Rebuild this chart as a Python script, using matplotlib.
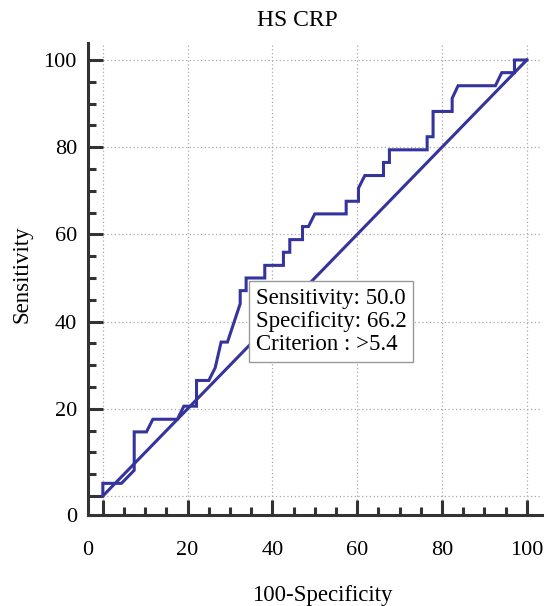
import matplotlib
matplotlib.use('Agg')
import matplotlib.pyplot as plt
from matplotlib.ticker import MultipleLocator, FixedLocator

# ROC curve vertices (100-Specificity, Sensitivity)
fpr = [0, 0, 4.4, 7.4, 7.4, 10.3, 11.8, 17.6, 19.1, 22.1,
       22.1, 25.0, 26.5, 27.9, 29.4, 32.4, 32.4, 33.8, 33.8, 38.2,
       38.2, 42.6, 42.6, 44.1, 44.1, 47.1, 47.1, 48.5, 50.0, 57.4,
       57.4, 60.3, 60.3, 61.8, 66.2, 66.2, 67.6, 67.6, 76.5, 76.5,
       77.9, 77.9, 82.4, 82.4, 83.8, 92.6, 94.1, 97.1, 97.1, 100]
tpr = [0, 2.9, 2.9, 5.9, 14.7, 14.7, 17.6, 17.6, 20.6, 20.6,
       26.5, 26.5, 29.4, 35.3, 35.3, 44.1, 47.1, 47.1, 50.0, 50.0,
       52.9, 52.9, 55.9, 55.9, 58.8, 58.8, 61.8, 61.8, 64.7, 64.7,
       67.6, 67.6, 70.6, 73.5, 73.5, 76.5, 76.5, 79.4, 79.4, 82.4,
       82.4, 88.2, 88.2, 91.2, 94.1, 94.1, 97.1, 97.1, 100, 100]
diag_x = [0, 100]
diag_y = [0, 100]

major_ticks = [0, 20, 40, 60, 80, 100]
tick_labels = ['', '20', '40', '60', '80', '100']
corner_label = '0'

title = 'HS CRP'
xlabel = '100-Specificity'
ylabel = 'Sensitivity'
info_text = 'Sensitivity: 50.0\nSpecificity: 66.2\nCriterion : >5.4'

plt.rcParams['font.family'] = ['Liberation Serif', 'DejaVu Serif']
line_color = '#34349c'
spine_color = '#333333'

fig = plt.figure(figsize=(5.51, 6.06), dpi=100)
ax = fig.add_axes([88/551, 1-515/606, 453.6/551, 472/606])

ax.plot(diag_x, diag_y, color=line_color, lw=2.2, solid_joinstyle='miter', zorder=3)
ax.plot(fpr, tpr, color=line_color, lw=2.2, solid_joinstyle='miter', zorder=3)

ax.set_xlim(-3.5, 103.5)
ax.set_ylim(-4.36, 103.9)

for s in ['top', 'right']:
    ax.spines[s].set_visible(False)
for s in ['left', 'bottom']:
    ax.spines[s].set_color(spine_color)
    ax.spines[s].set_linewidth(2.2)

ax.xaxis.set_major_locator(FixedLocator(major_ticks))
ax.yaxis.set_major_locator(FixedLocator(major_ticks))
ax.set_xticklabels(tick_labels)
ax.set_yticklabels(tick_labels)
ax.xaxis.set_minor_locator(MultipleLocator(5))
ax.yaxis.set_minor_locator(MultipleLocator(5))

ax.tick_params(which='both', direction='in', color=spine_color, width=2.2)
ax.tick_params(which='major', length=11)
ax.tick_params(which='minor', length=5.5)
ax.tick_params(axis='x', which='major', pad=19, labelsize=16)
ax.tick_params(axis='y', which='major', pad=8, labelsize=16)

ax.grid(True, which='major', color='#aaaaaa', lw=0.9, ls=(0, (1, 2)))
ax.set_axisbelow(True)

ax.annotate(corner_label, xy=(0, 0), xycoords='axes fraction',
            xytext=(0, -19), textcoords='offset points',
            ha='center', va='top', fontsize=16)
ax.annotate(corner_label, xy=(0, 0), xycoords='axes fraction',
            xytext=(-8, 0), textcoords='offset points',
            ha='right', va='center_baseline', fontsize=16)

ax.set_xlabel(xlabel, fontsize=16.5)
ax.set_ylabel(ylabel, fontsize=16.5)
ax.xaxis.set_label_coords(0.516, -0.148)
ax.yaxis.set_label_coords(-0.122, 0.51)

fig.text(297/551, 1-20/606, title, ha='center', va='center', fontsize=17)

ax.text(36.1, 47.8, info_text, ha='left', va='top', fontsize=16.5,
        linespacing=1.15, zorder=5,
        bbox=dict(boxstyle='square,pad=0.3', fc='white', ec='#999999', lw=1.0))

fig.savefig('out.png', dpi=100)
